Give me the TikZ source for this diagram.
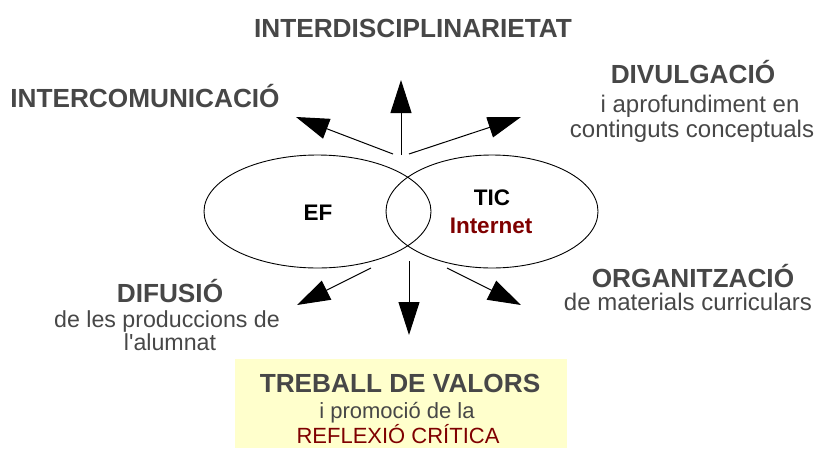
\documentclass[tikz,border=0pt]{standalone}
\usepackage{fontspec}
\setmainfont{Liberation Sans}
\usetikzlibrary{arrows.meta,shapes.geometric}
\definecolor{txtgray}{HTML}{474747}
\definecolor{darkred}{HTML}{7F0000}
\definecolor{boxyellow}{HTML}{FFFFCC}
\begin{document}
\begin{tikzpicture}[x=1pt,y=-1pt,
  title/.style={font=\fontsize{26.2}{30}\selectfont\bfseries, text=txtgray, inner sep=0, anchor=base},
  sub/.style={font=\fontsize{24}{28}\selectfont, text=txtgray, inner sep=0, anchor=base},
  boxsub/.style={font=\fontsize{22}{26}\selectfont, text=txtgray, inner sep=0, anchor=base},
  inlbl/.style={font=\fontsize{22.5}{26}\selectfont\bfseries, text=black, inner sep=0, anchor=base},
  conn/.style={line width=1pt, -{Triangle[length=33pt,width=21pt]}},
  ring/.style={draw, ellipse, line width=0.9pt, inner sep=0}]
\useasboundingbox (0,0) rectangle (820,448);
% yellow box
\node[fill=boxyellow, inner sep=0, minimum width=332pt, minimum height=89pt] (box) at (401,403.5) {};
% ellipses
\node[ring, minimum width=227pt, minimum height=113pt] (ef) at (317.5,211.5) {};
\node[ring, minimum width=212pt, minimum height=113pt] (tic) at (492,211.5) {};
% inner labels
\node[inlbl] (eflbl) at (318,220) {EF};
\node[inlbl] (ticlbl) at (492,205) {TIC};
\node[inlbl, text=darkred] (netlbl) at (491,233) {Internet};
% outer labels
\node[title] (interd) at (413,37) {INTERDISCIPLINARIETAT};
\node[title] (interc) at (145,107) {INTERCOMUNICACIÓ};
\node[title] (divul) at (693,83) {DIVULGACIÓ};
\node[sub] (divul2) at (700,112) {i aprofundiment en};
\node[sub] (divul3) at (692,137) {continguts conceptuals};
\node[title] (difus) at (170,302) {DIFUSIÓ};
\node[sub, font=\fontsize{23.2}{27}\selectfont] (difus2) at (167,327) {de les produccions de};
\node[sub, font=\fontsize{23.2}{27}\selectfont] (difus3) at (170,350) {l\textquotesingle alumnat};
\node[title] (organ) at (693,287) {ORGANITZACIÓ};
\node[sub] (organ2) at (688,310) {de materials curriculars};
\node[title] (treb) at (400,392) {TREBALL DE VALORS};
\node[boxsub] (treb2) at (397,418) {i promoció de la};
\node[boxsub, text=darkred] (treb3) at (398,443) {REFLEXIÓ CRÍTICA};
% arrow coordinates
\coordinate (s1) at (401,155); \coordinate (t1) at (401,80);
\coordinate (s2) at (393,154); \coordinate (t2) at (296,117);
\coordinate (s3) at (409,154); \coordinate (t3) at (521,117);
\coordinate (s4) at (409,261); \coordinate (t4) at (409,335);
\coordinate (s5) at (371,268); \coordinate (t5) at (297,305);
\coordinate (s6) at (447,268); \coordinate (t6) at (521,305);
\draw[conn] (s1) -- (t1);
\draw[conn] (s2) -- (t2);
\draw[conn] (s3) -- (t3);
\draw[conn] (s4) -- (t4);
\draw[conn] (s5) -- (t5);
\draw[conn] (s6) -- (t6);
\end{tikzpicture}
\end{document}
